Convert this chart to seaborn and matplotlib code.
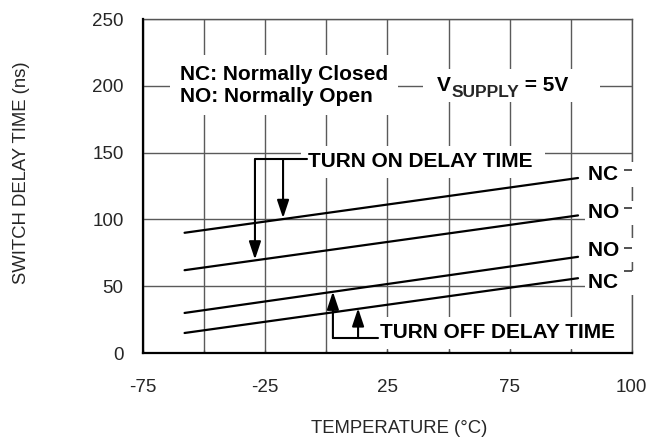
import pandas as pd
import matplotlib
matplotlib.use("Agg")
import matplotlib.pyplot as plt
import seaborn as sns

# data (x in the chart's own grid units)
temps = [-58, 103]
nc_on = [90, 131]
no_on = [62, 103]
no_off = [30, 72]
nc_off = [15, 56]
series_names = ["NC on", "NO on", "NO off", "NC off"]
end_labels = ["NC", "NO", "NO", "NC"]
label_y = [133.5, 105, 77, 52.5]

x_ticks = [-75, -50, -25, 0, 25, 50, 75, 100, 125]
x_ticklabels = ["-75", "", "-25", "", "25", "", "75", "", "100"]
y_ticks = [0, 50, 100, 150, 200, 250]

rows = []
for name, vals in zip(series_names, [nc_on, no_on, no_off, nc_off]):
    for t, v in zip(temps, vals):
        rows.append({"temp": t, "delay": v, "series": name})
df = pd.DataFrame(rows)

sns.set_style("white")
plt.rcParams["font.family"] = ["Liberation Sans", "DejaVu Sans"]

fig = plt.figure(figsize=(6.46, 4.38), dpi=100)
ax = fig.add_axes([0.2214, 0.194, 0.7566, 0.7626])

sns.lineplot(data=df, x="temp", y="delay", units="series", estimator=None,
             color="black", linewidth=1.6, ax=ax, zorder=2.2)

ax.set_xlim(-75, 125)
ax.set_ylim(0, 250)
ax.set_xticks(x_ticks)
ax.set_xticklabels(x_ticklabels)
ax.set_yticks(y_ticks)
ax.grid(True, color="#5a5a5a", linewidth=1.0)
ax.set_axisbelow(True)
ax.tick_params(axis="x", direction="in", length=2, width=1, color="#555555",
               pad=19, labelsize=13.5, bottom=True)
ax.tick_params(axis="y", length=0, pad=14, labelsize=13.5)

for s in ["left", "bottom"]:
    ax.spines[s].set_color("black")
    ax.spines[s].set_linewidth(1.6)
    ax.spines[s].set_zorder(6)
for s in ["top", "right"]:
    ax.spines[s].set_color("#555555")
    ax.spines[s].set_linewidth(1.0)

ax.set_xlabel("TEMPERATURE (°C)", fontsize=13.3)
ax.set_ylabel("SWITCH DELAY TIME (ns)", fontsize=13.3)
ax.xaxis.set_label_coords(0.524, -0.2)
ax.yaxis.set_label_coords(-0.232, 0.54)

white = dict(facecolor="white", edgecolor="none")
bold = dict(fontsize=15, fontweight="bold", color="black")

ax.text(-60, 200.6, "NC: Normally Closed\nNO: Normally Open", va="center",
        ha="left", linespacing=1.2, bbox=dict(pad=7, **white), zorder=4, **bold)

# V_SUPPLY = 5V (blank text only gives the white gap in the grid)
ax.text(42.4, 200, " " * 29, va="center", ha="left", fontsize=14.5,
        bbox=dict(pad=5, **white), zorder=3)
t_v = ax.text(45.3, 200, "V", va="center", ha="left", zorder=4, **bold)
t_sub = ax.annotate("SUPPLY", xy=(1, 0), xycoords=t_v, xytext=(0.5, -3.5),
                    textcoords="offset points", va="bottom", ha="left",
                    fontsize=12.5, fontweight="bold", zorder=4)
ax.annotate(" = 5V", xy=(1, 0), xycoords=t_sub, xytext=(0, 3.5),
            textcoords="offset points", va="bottom", ha="left", zorder=4, **bold)

# turn-on annotation
ax.text(-7.5, 143, "TURN ON DELAY TIME ", va="center", ha="left",
        bbox=dict(pad=5, **white), zorder=4, **bold)
arrow = dict(arrowstyle="-|>,head_length=0.6,head_width=0.2", color="black",
             lw=1.5, shrinkA=0, shrinkB=0, mutation_scale=18)
ax.plot([-29.2, -8], [145, 145], color="black", lw=1.5, zorder=5)
ax.annotate("", xy=(-29.2, 70), xytext=(-29.2, 145), arrowprops=arrow, zorder=5)
ax.annotate("", xy=(-17.7, 101), xytext=(-17.7, 145), arrowprops=arrow, zorder=5)

# turn-off annotation
ax.text(22, 15, "TURN OFF DELAY TIME", va="center", ha="left",
        bbox=dict(pad=5, **white), zorder=4, **bold)
ax.plot([2.7, 21], [11.2, 11.2], color="black", lw=1.5, zorder=5)
ax.annotate("", xy=(2.7, 46), xytext=(2.7, 11.2), arrowprops=arrow, zorder=5)
ax.annotate("", xy=(13.0, 33.5), xytext=(13.0, 11.2), arrowprops=arrow, zorder=5)

# end labels
for lab, yv in zip(end_labels, label_y):
    ax.text(107, yv, lab + "   ", va="center", ha="left",
            bbox=dict(pad=2, **white), zorder=4, clip_on=False, **bold)
ax.hlines([137, 108.5, 78.6, 61.4], 121.8, 125, color="#333333", lw=1.2,
          zorder=5, clip_on=False)

fig.savefig("out.png", dpi=100)
